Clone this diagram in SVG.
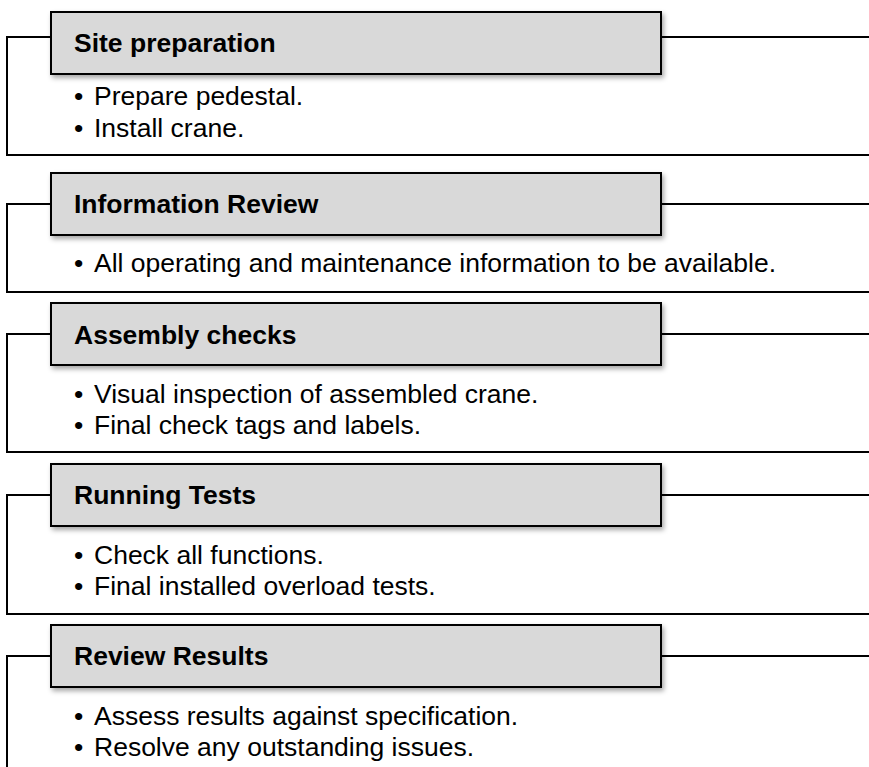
<svg xmlns="http://www.w3.org/2000/svg" width="869" height="767" viewBox="0 0 869 767">
<defs>
<filter id="sh" x="-5%" y="-20%" width="115%" height="160%">
<feDropShadow dx="2" dy="3" stdDeviation="2.5" flood-color="#000" flood-opacity="0.35"/>
</filter>
</defs>
<style>
.hdr{fill:#d9d9d9;stroke:#000;stroke-width:2;filter:url(#sh)}
.t{font-family:"Liberation Sans",Arial,sans-serif;font-weight:bold;font-size:26.5px;fill:#000}
.b{font-family:"Liberation Sans",Arial,sans-serif;font-size:26.5px;fill:#000}
.c{fill:none;stroke:#000;stroke-width:2}
</style>
<rect width="869" height="767" fill="#fff"/>
<g id="connectors">
<path class="c" d="M51,37 H7 V155 H869 M661,37 H869"/>
<path class="c" d="M51,204 H7 V292 H869 M661,204 H869"/>
<path class="c" d="M51,334 H7 V452 H869 M661,334 H869"/>
<path class="c" d="M51,495 H7 V614 H869 M661,495 H869"/>
<path class="c" d="M51,656 H7 V767 M661,656 H869"/>
</g>
<g id="site-preparation">
<rect class="hdr" x="51" y="12" width="610" height="62"/>
<text class="t" x="74" y="52">Site preparation</text>
<text class="b" y="105"><tspan x="74">•</tspan><tspan x="94">Prepare pedestal.</tspan></text>
<text class="b" y="137"><tspan x="74">•</tspan><tspan x="94">Install crane.</tspan></text>
</g>
<g id="information-review">
<rect class="hdr" x="51" y="173" width="610" height="62"/>
<text class="t" x="74" y="213">Information Review</text>
<text class="b" y="272"><tspan x="74">•</tspan><tspan x="94">All operating and maintenance information to be available.</tspan></text>
</g>
<g id="assembly-checks">
<rect class="hdr" x="51" y="303" width="610" height="62"/>
<text class="t" x="74" y="344">Assembly checks</text>
<text class="b" y="403"><tspan x="74">•</tspan><tspan x="94">Visual inspection of assembled crane.</tspan></text>
<text class="b" y="434"><tspan x="74">•</tspan><tspan x="94">Final check tags and labels.</tspan></text>
</g>
<g id="running-tests">
<rect class="hdr" x="51" y="464" width="610" height="62"/>
<text class="t" x="74" y="504">Running Tests</text>
<text class="b" y="564"><tspan x="74">•</tspan><tspan x="94">Check all functions.</tspan></text>
<text class="b" y="595"><tspan x="74">•</tspan><tspan x="94">Final installed overload tests.</tspan></text>
</g>
<g id="review-results">
<rect class="hdr" x="51" y="625" width="610" height="62"/>
<text class="t" x="74" y="665">Review Results</text>
<text class="b" y="725"><tspan x="74">•</tspan><tspan x="94">Assess results against specification.</tspan></text>
<text class="b" y="756"><tspan x="74">•</tspan><tspan x="94">Resolve any outstanding issues.</tspan></text>
</g>
</svg>
